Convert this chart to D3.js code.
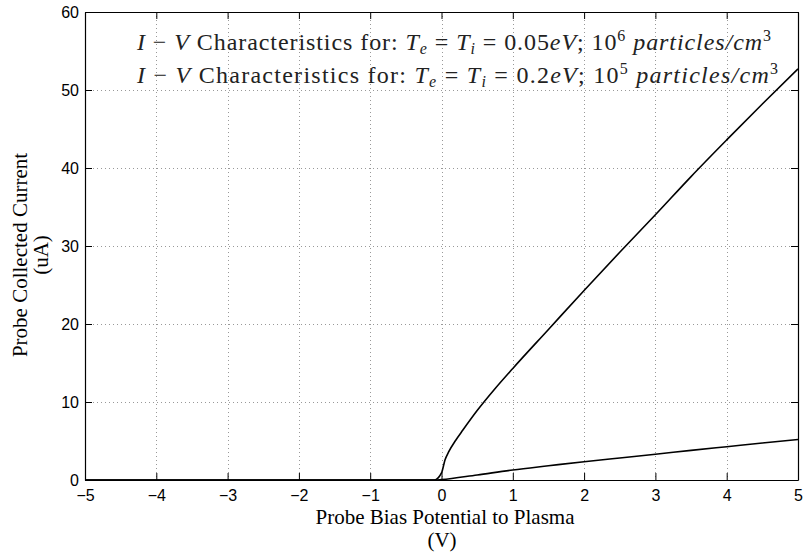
<!DOCTYPE html>
<html>
<head>
<meta charset="utf-8">
<script src="https://cdn.jsdelivr.net/npm/d3@7"></script>
<style>
  html, body { margin: 0; padding: 0; background: #fff; }
  svg { display: block; }
</style>
</head>
<body>
<svg id="chart" width="806" height="555"></svg>
<script>
// ---- data ----
const biasV = [-5, -4, -3, -2, -1, -0.1, 0, 0.05, 0.1, 0.2, 0.3, 0.5, 0.75, 1, 1.5, 2, 2.5, 3, 3.5, 4, 4.5, 5];
const current005eV = [0, 0, 0, 0, 0, 0, 0.9, 2.6, 3.6, 5.1, 6.4, 8.9, 11.7, 14.3, 19.3, 24.3, 29.2, 34.0, 38.9, 43.6, 48.2, 52.7];
const biasV2 = [-5, -4, -3, -2, -1, -0.1, 0, 0.5, 1, 1.5, 2, 2.5, 3, 3.5, 4, 4.5, 5];
const current02eV = [0, 0, 0, 0, 0, 0, 0.05, 0.65, 1.28, 1.82, 2.35, 2.83, 3.3, 3.8, 4.27, 4.74, 5.2];
const xTicks = [-5, -4, -3, -2, -1, 0, 1, 2, 3, 4, 5];
const yTicks = [0, 10, 20, 30, 40, 50, 60];
const xLabel = ["Probe Bias Potential to Plasma", "(V)"];
const yLabel = ["Probe Collected Current", "(uA)"];

// ---- layout ----
const svg = d3.select("#chart");
const L = 85, R = 798, T = 12, B = 480;
const x = d3.scaleLinear().domain([-5, 5]).range([L, R]);
const y = d3.scaleLinear().domain([0, 60]).range([B, T]);

// grid
const grid = svg.append("g").attr("stroke", "#999").attr("stroke-width", 1).attr("stroke-dasharray", "1,3");
grid.selectAll("line.vx").data(xTicks.slice(1, -1)).join("line")
  .attr("x1", d => Math.round(x(d)) + 0.5).attr("x2", d => Math.round(x(d)) + 0.5)
  .attr("y1", T).attr("y2", B);
grid.selectAll("line.hy").data(yTicks.slice(1, -1)).join("line")
  .attr("y1", d => Math.round(y(d)) + 0.5).attr("y2", d => Math.round(y(d)) + 0.5)
  .attr("x1", L).attr("x2", R);

// axes (MATLAB style, inward ticks)
const tickLen = 7;
const axB = svg.append("g").attr("transform", `translate(0,${B})`)
  .call(d3.axisBottom(x).tickValues(xTicks).tickSizeInner(-tickLen).tickSizeOuter(0).tickPadding(10)
    .tickFormat(d => d < 0 ? "\u2212" + Math.abs(d) : d));
const axT = svg.append("g").attr("transform", `translate(0,${T})`)
  .call(d3.axisTop(x).tickValues(xTicks).tickSizeInner(-tickLen).tickSizeOuter(0).tickFormat(""));
const axL = svg.append("g").attr("transform", `translate(${L},0)`)
  .call(d3.axisLeft(y).tickValues(yTicks).tickSizeInner(-tickLen).tickSizeOuter(0).tickPadding(6));
const axR = svg.append("g").attr("transform", `translate(${R},0)`)
  .call(d3.axisRight(y).tickValues(yTicks).tickSizeInner(-tickLen).tickSizeOuter(0).tickFormat(""));
[axB, axT, axL, axR].forEach(a => {
  a.selectAll("path.domain").attr("stroke", "#000").attr("stroke-width", 1.2);
  a.selectAll(".tick line").attr("stroke", "#000").attr("stroke-width", 1);
  a.selectAll("text").attr("font-family", "Liberation Sans, Arial, sans-serif").attr("font-size", 16).attr("fill", "#000");
});

// curves
const line = d3.line().x(d => x(d[0])).y(d => y(d[1])).curve(d3.curveMonotoneX);
svg.append("path").datum(d3.zip(biasV, current005eV)).attr("d", line)
  .attr("fill", "none").attr("stroke", "#000").attr("stroke-width", 1.6).attr("stroke-linejoin", "round");
svg.append("path").datum(d3.zip(biasV2, current02eV)).attr("d", line)
  .attr("fill", "none").attr("stroke", "#000").attr("stroke-width", 1.6).attr("stroke-linejoin", "round");

// axis labels
const serif = "Liberation Serif, Times New Roman, serif";
svg.append("text").attr("x", 445).attr("y", 524).attr("text-anchor", "middle")
  .attr("font-family", serif).attr("font-size", 21).text(xLabel[0]);
svg.append("text").attr("x", 442).attr("y", 547).attr("text-anchor", "middle")
  .attr("font-family", serif).attr("font-size", 21).text(xLabel[1]);
svg.append("text").attr("transform", "translate(27,255) rotate(-90)").attr("text-anchor", "middle")
  .attr("font-family", serif).attr("font-size", 21).text(yLabel[0]);
svg.append("text").attr("transform", "translate(48,255) rotate(-90)").attr("text-anchor", "middle")
  .attr("font-family", serif).attr("font-size", 21).text(yLabel[1]);

// legend text (math-styled)
function legendLine(yPos, temp, exp, width) {
  const t = svg.append("text").attr("x", 137).attr("y", yPos)
    .attr("font-family", serif).attr("font-size", 24).attr("fill", "#222")
    .attr("textLength", width).attr("lengthAdjust", "spacing");
  const parts = [
    {s: "I", it: true}, {s: " \u2212 ", it: false}, {s: "V", it: true},
    {s: " Characteristics for: ", it: false},
    {s: "T", it: true}, {s: "e", it: true, sub: true}, {s: " = ", it: false},
    {s: "T", it: true}, {s: "i", it: true, sub: true}, {s: " = " + temp, it: false},
    {s: "eV", it: true}, {s: "; 10", it: false}, {s: exp, it: false, sup: true},
    {s: " particles/cm", it: true}, {s: "3", it: false, sup: true}
  ];
  let prevShift = 0;
  parts.forEach(p => {
    const shift = p.sub ? 4 : (p.sup ? -9 : 0);
    t.append("tspan").text(p.s)
      .attr("font-style", p.it ? "italic" : "normal")
      .attr("font-size", (p.sub || p.sup) ? 16 : 24)
      .attr("dy", shift - prevShift);
    prevShift = shift;
  });
}
legendLine(50, "0.05", "6", 634);
legendLine(83, "0.2", "5", 641);
</script>
</body>
</html>
